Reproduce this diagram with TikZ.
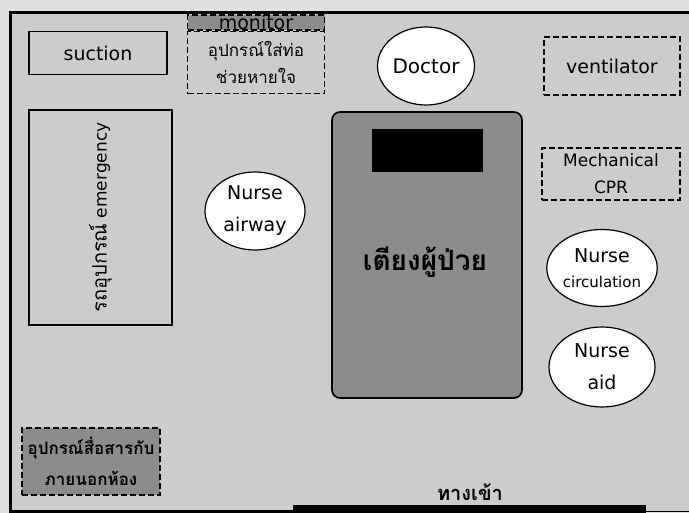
\documentclass[tikz,border=0pt]{standalone}
\usepackage{fontspec}
\setmainfont{DejaVu Sans}
\newfontfamily\thai[Script=Thai]{Loma}
\usepackage{xcolor}
\usepackage{tikz}
\usetikzlibrary{positioning,shapes.geometric}

\definecolor{roomgray}{gray}{0.80}
\definecolor{outgray}{gray}{0.88}
\definecolor{darkfill}{gray}{0.55}
\newcommand{\fs}[2]{\fontsize{#1}{#2}\selectfont}

\begin{document}
\begin{tikzpicture}[
  x=1pt, y=-1pt,
  box/.style={draw, line width=1.6pt, fill=roomgray, align=center},
  dbox/.style={draw, line width=1.6pt, dash pattern=on 6pt off 3pt, fill=roomgray,
               align=center, inner sep=0pt},
  person/.style={draw, line width=1.2pt, ellipse, fill=white, align=center,
                 inner sep=0pt},
  wall/.style={line width=3pt}
]
\useasboundingbox (0,0) rectangle (689,513);
\fill[outgray] (0,0) rectangle (689,513);
\fill[roomgray] (10,13) rectangle (689,511);
% walls and door
\draw[wall] (689,13) -- (10,13) -- (10,511) -- (293,511);
\draw[line width=8pt] (293,509) -- (646,509);
\draw[line width=0.8pt] (646,511.5) -- (689,511.5);

% left side
\node[box, minimum width=138pt, minimum height=43pt, font=\fs{19}{22}] (suction) at (98,53) {suction};
\node[box, rotate=90, minimum width=215pt, minimum height=143pt, font=\fs{17}{20}]
  (cart) at (100.5,217.5) {{\thai\fs{20}{22}รถอุปกรณ์} emergency};
\node[dbox, fill=darkfill, minimum width=137pt, minimum height=15pt, font=\fs{19}{19}]
  (monitor) at (256,22.5) {monitor};
\node[dbox, below=0pt of monitor, minimum width=137pt, minimum height=62pt,
      font=\thai\fs{17}{27}] (tube) {อุปกรณ์ใส่ท่อ\\ช่วยหายใจ};
\node[dbox, fill=darkfill, minimum width=138pt, minimum height=67pt,
      font=\thai\fs{17}{31}\bfseries] (comm) at (91,461.5)
  {อุปกรณ์สื่อสารกับ\\ภายนอกห้อง};

% team
\node[person, minimum width=97pt, minimum height=78pt, font=\fs{20}{22}] (doctor) at (426,66) {Doctor};
\node[person, minimum width=100pt, minimum height=78pt, font=\fs{19}{32}]
  (airway) at (255,211) {Nurse\\airway};
\node[person, minimum width=104pt, minimum height=77pt, font=\fs{19}{25}]
  (circulation) at (602,268) {Nurse\\{\fs{15}{25}circulation}};
\node[person, minimum width=106pt, minimum height=80pt, font=\fs{19}{32}]
  (aid) at (602,367) {Nurse\\aid};

% bed
\node[draw, line width=1.6pt, rounded corners=8pt, fill=darkfill,
      minimum width=190pt, minimum height=286pt] (bed) at (427,255) {};
\node[fill=black, minimum width=111pt, minimum height=43pt, inner sep=0pt,
      below=18pt of bed.north] (screen) {};
\node[font=\thai\fs{28}{30}\bfseries] (bedtext) at (425,262) {เตียงผู้ป่วย};

% right side
\node[dbox, minimum width=136pt, minimum height=58pt, font=\fs{19}{22}] (ventilator) at (612,66) {ventilator};
\node[dbox, minimum width=138pt, minimum height=52pt, font=\fs{17}{27}]
  (cpr) at (611,174) {Mechanical\\CPR};

% entrance
\node[font=\thai\fs{20}{22}\bfseries] (entry) at (470,492) {ทางเข้า};
\end{tikzpicture}
\end{document}
